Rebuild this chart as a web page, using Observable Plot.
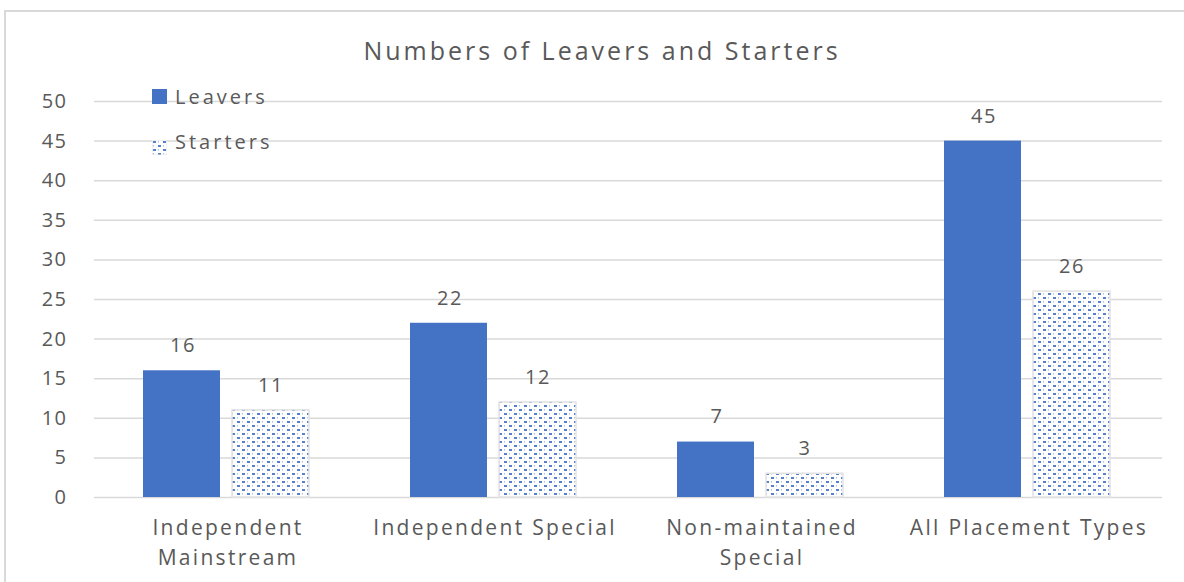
<!DOCTYPE html>
<html>
<head>
<meta charset="utf-8">
<script src="https://cdn.jsdelivr.net/npm/d3@7"></script>
<script src="https://cdn.jsdelivr.net/npm/@observablehq/plot@0.6"></script>
<style>
  html, body { margin: 0; padding: 0; background: #fff; overflow: hidden; }
  body { width: 1184px; height: 582px; position: relative; font-family: "Open Sans", sans-serif; }
  #frame { position: absolute; left: 4px; top: 10px; width: 1200px; height: 600px; border: 2px solid #d9d9d9; box-sizing: border-box; }
  #title { position: relative; height: 80px; line-height: 100px; text-align: center; padding-left: 20px; box-sizing: border-box;
           font-size: 25px; color: #595959; letter-spacing: 3px; }
  #chart { position: relative; }
  #legend { position: absolute; left: 152px; top: 84px; font-size: 20px; color: #595959; letter-spacing: 3px; }
  .item { display: flex; align-items: center; height: 24px; margin-bottom: 21px; }
  .sw { width: 15px; height: 15px; margin-right: 8px; box-sizing: border-box; }
</style>
</head>
<body>
<div id="frame"></div>
<div id="title">Numbers of Leavers and Starters</div>
<div id="chart"></div>
<div id="legend"></div>
<script>
const categories = ["Independent Mainstream", "Independent Special", "Non-maintained Special", "All Placement Types"];
const tickLabels = ["Independent\nMainstream", "Independent Special", "Non-maintained\nSpecial", "All Placement Types"];
const series = ["Leavers", "Starters"];
const leavers = [16, 22, 7, 45];
const starters = [11, 12, 3, 26];
const yTicks = [0, 5, 10, 15, 20, 25, 30, 35, 40, 45, 50];

const blue = "#4472c4";
const textColor = "#595959";

const data = [];
categories.forEach((c, i) => {
  data.push({category: c, series: "Leavers", value: leavers[i]});
  data.push({category: c, series: "Starters", value: starters[i]});
});
const labelOf = new Map(categories.map((c, i) => [c, tickLabels[i]]));

const plot = Plot.plot({
  width: 1184,
  height: 502,
  marginTop: 21,
  marginBottom: 85,
  marginLeft: 92,
  marginRight: 21,
  style: {fontFamily: "Open Sans, sans-serif", fontSize: "20px", color: textColor, background: "transparent", letterSpacing: "1.5px"},
  fx: {domain: categories, padding: 0, label: null},
  x: {domain: series, paddingInner: 0.13, paddingOuter: 0.57, axis: null},
  y: {domain: [0, 50], ticks: yTicks, label: null},
  marks: [
    Plot.gridY(yTicks, {stroke: "#d9d9d9", strokeOpacity: 1, strokeWidth: 1.5}),
    Plot.axisY(yTicks, {tickSize: 0, tickPadding: 0, dx: -27, fill: textColor, fontSize: 20, label: null}),
    Plot.axisFx({anchor: "bottom", tickSize: 0, tickPadding: 16, fill: textColor, fontSize: 21, lineHeight: 1.43, tickFormat: d => labelOf.get(d), label: null}),
    Plot.barY(data.filter(d => d.series === "Leavers"), {fx: "category", x: "series", y: "value", fill: blue, dx: -2}),
    Plot.barY(data.filter(d => d.series === "Starters"), {fx: "category", x: "series", y: "value", fill: "url(#dots)", stroke: "#e2e2e2", strokeWidth: 1.5, dx: -1}),
    Plot.text(data, {fx: "category", x: "series", y: "value", text: d => String(d.value), dy: -25, dx: -1, fill: textColor, fontSize: 20})
  ]
});

// wider letter spacing for the category labels
plot.querySelectorAll('[aria-label="fx-axis tick label"]').forEach(g => g.style.letterSpacing = "2.3px");

// pattern definition for the dotted "Starters" fill
const ns = "http://www.w3.org/2000/svg";
const defs = document.createElementNS(ns, "defs");
defs.innerHTML = `<pattern id="dots" patternUnits="userSpaceOnUse" width="10" height="8">
  <rect width="10" height="8" fill="#ffffff"/>
  <rect x="1" y="1" width="3" height="2" fill="${blue}" opacity="0.9"/>
  <rect x="6" y="5" width="3" height="2" fill="${blue}" opacity="0.9"/>
  <rect x="1" y="5" width="1" height="1.5" fill="${blue}" opacity="0.45"/>
  <rect x="6" y="1" width="1" height="1.5" fill="${blue}" opacity="0.45"/>
</pattern>`;
plot.insertBefore(defs, plot.firstChild);
document.getElementById("chart").append(plot);

// legend (inside plot area, top-left)
const legend = document.getElementById("legend");
series.forEach(s => {
  const item = document.createElement("div");
  item.className = "item";
  const sw = document.createElement("div");
  sw.className = "sw";
  if (s === "Leavers") sw.style.background = blue;
  else sw.innerHTML = `<svg width="15" height="15"><rect width="15" height="15" fill="url(#dots)" stroke="#e2e2e2"/></svg>`;
  const label = document.createElement("span");
  label.textContent = s;
  item.append(sw, label);
  legend.append(item);
});
</script>
</body>
</html>
